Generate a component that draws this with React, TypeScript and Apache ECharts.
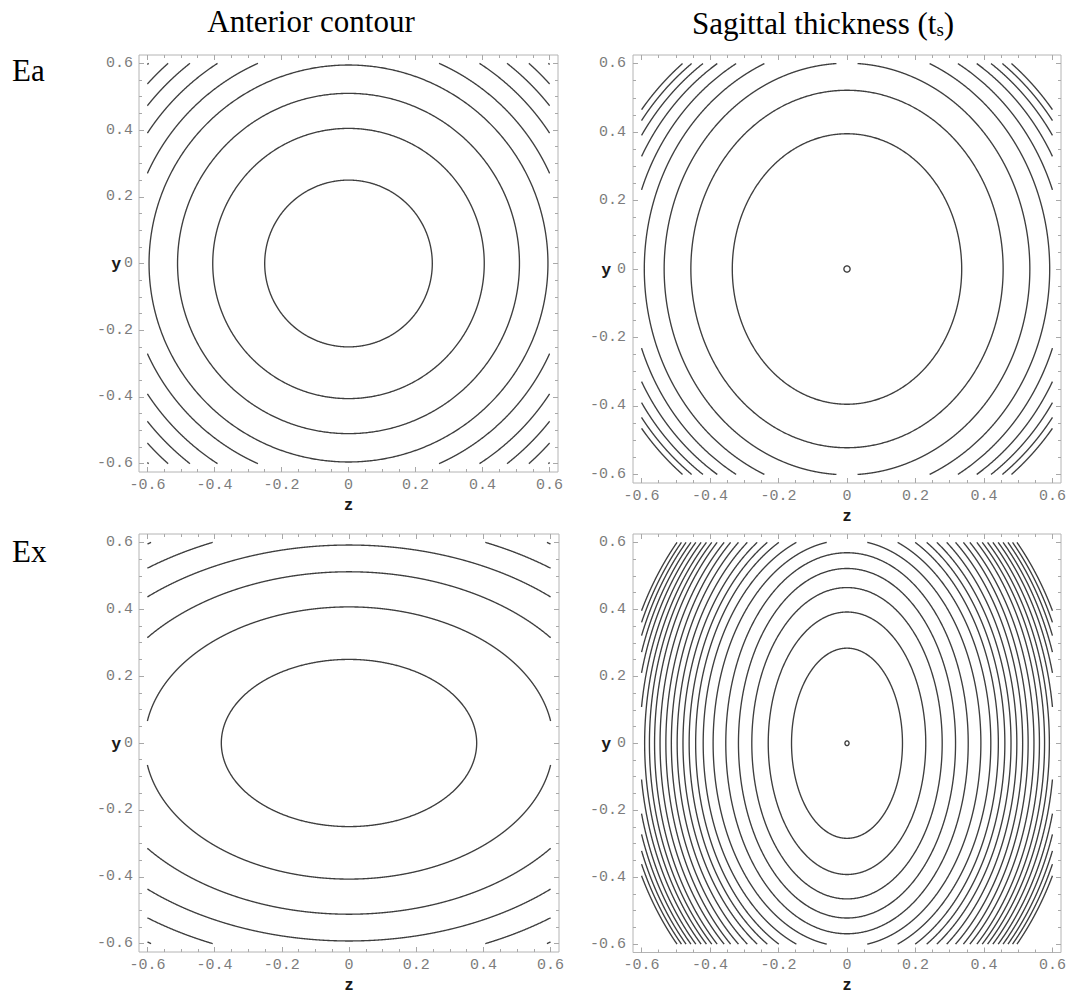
import React, { useEffect, useRef } from "react";
import * as echarts from "echarts";

// ---------- axis ticks ----------
const majorTicks = [-0.6, -0.4, -0.2, 0, 0.2, 0.4, 0.6];
const minorTicks = [
  -0.6, -0.55, -0.5, -0.45, -0.4, -0.35, -0.3, -0.25, -0.2, -0.15, -0.1, -0.05, 0,
  0.05, 0.1, 0.15, 0.2, 0.25, 0.3, 0.35, 0.4, 0.45, 0.5, 0.55, 0.6,
];
const axisMin = -0.625;
const axisMax = 0.625;
const dataLimit = 0.6;

// ---------- texts ----------
const rowLabels = ["Ea", "Ex"];
const anteriorTitle = "Anterior contour";
const sagittalTitle = "Sagittal thickness (t";
const sagittalSub = "s";
const xName = "z";
const yName = "y";

// ---------- contour levels: semi-axis along z and along y ----------
const eaAnteriorZ = [0.25, 0.405, 0.51, 0.595, 0.658, 0.716, 0.764, 0.806, 0.846];
const eaAnteriorY = [0.25, 0.405, 0.51, 0.595, 0.658, 0.716, 0.764, 0.806, 0.846];

const eaSagittalZ = [0.009, 0.335, 0.456, 0.534, 0.592, 0.636, 0.673, 0.703, 0.727, 0.745];
const eaSagittalY = [0.009, 0.395, 0.522, 0.601, 0.657, 0.697, 0.726, 0.749, 0.768, 0.785];

const exAnteriorZ = [0.38, 0.608, 0.761, 0.889, 0.988, 1.076];
const exAnteriorY = [0.25, 0.407, 0.512, 0.592, 0.658, 0.717];

const exSagittalZ = [
  0.006, 0.162, 0.23, 0.278, 0.317, 0.354, 0.391, 0.42, 0.442, 0.461, 0.479, 0.496,
  0.513, 0.529, 0.546, 0.562, 0.577, 0.591, 0.605, 0.619, 0.632, 0.645, 0.657, 0.669,
];
const exSagittalY = [
  0.007, 0.284, 0.392, 0.465, 0.522, 0.569, 0.607, 0.641, 0.672, 0.695, 0.717, 0.741,
  0.763, 0.783, 0.796, 0.813, 0.823, 0.834, 0.845, 0.856, 0.866, 0.876, 0.886, 0.895,
];

const panelData = [
  { z: eaAnteriorZ, y: eaAnteriorY },
  { z: eaSagittalZ, y: eaSagittalY },
  { z: exAnteriorZ, y: exAnteriorY },
  { z: exSagittalZ, y: exSagittalY },
];

// ---------- layout / style ----------
const gridBoxes = [
  { left: 139, top: 55, width: 419, height: 417, nameGapY: 18, marginY: 6 },
  { left: 633, top: 55, width: 428, height: 428, nameGapY: 22, marginY: 7 },
  { left: 139, top: 534, width: 420, height: 418, nameGapY: 18, marginY: 6 },
  { left: 633, top: 534, width: 428, height: 428, nameGapY: 22, marginY: 7 },
];

const frameColor = "#b4b4b4";
const tickColor = "#a8a8a8";
const labelColor = "#7c7c7c";
const contourColor = "#3e3e3e";

const fmt = (v: number) => (Math.abs(v) < 1e-9 ? "0" : v.toFixed(1));

const contourRenderItem = (_params: any, api: any) => {
  const a = api.value(0) as number;
  const b = api.value(1) as number;
  const eps = 1e-9;
  const inside = (t: number) =>
    Math.abs(a * Math.cos(t)) <= dataLimit + eps && Math.abs(b * Math.sin(t)) <= dataLimit + eps;
  const toPx = (t: number) => api.coord([a * Math.cos(t), b * Math.sin(t)]);
  const N = 3600;
  const step = (2 * Math.PI) / N;
  const style = { stroke: contourColor, lineWidth: 1.35, fill: null as any };
  let start = -1;
  for (let i = 0; i < N; i++) {
    if (!inside(i * step)) {
      start = i * step;
      break;
    }
  }
  if (start < 0) {
    const pts: number[][] = [];
    for (let i = 0; i <= N; i += 4) pts.push(toPx(i * step));
    pts.push(toPx(0));
    return { type: "polyline", shape: { points: pts }, style };
  }
  const segs: number[][][] = [];
  let cur: number[][] | null = null;
  let prevT = start;
  let prevIn = false;
  for (let i = 1; i <= N; i++) {
    const t = start + i * step;
    const isIn = inside(t);
    if (isIn && !prevIn) {
      let lo = prevT;
      let hi = t;
      for (let k = 0; k < 40; k++) {
        const m = (lo + hi) / 2;
        if (inside(m)) hi = m;
        else lo = m;
      }
      cur = [toPx(hi), toPx(t)];
    } else if (isIn && prevIn && cur) {
      cur.push(toPx(t));
    } else if (!isIn && prevIn && cur) {
      let lo = prevT;
      let hi = t;
      for (let k = 0; k < 40; k++) {
        const m = (lo + hi) / 2;
        if (inside(m)) lo = m;
        else hi = m;
      }
      cur.push(toPx(lo));
      segs.push(cur);
      cur = null;
    }
    prevT = t;
    prevIn = isIn;
  }
  return {
    type: "group",
    children: segs.map((points) => ({ type: "polyline", shape: { points }, style })),
  };
};

function buildOption() {
  const grids: any[] = [];
  const xAxes: any[] = [];
  const yAxes: any[] = [];
  const series: any[] = [];

  const labelStyle = (margin: number) => ({
    show: true,
    customValues: majorTicks,
    formatter: fmt,
    margin,
    fontFamily: "Liberation Mono",
    fontSize: 15,
    lineHeight: 12,
    color: labelColor,
  });
  const tick = (values: number[], length: number) => ({
    show: true,
    inside: true,
    length,
    customValues: values,
    lineStyle: { color: tickColor, width: 1 },
  });
  const nameStyle = {
    fontFamily: "Liberation Sans",
    fontWeight: "bold",
    fontSize: 17,
    lineHeight: 14,
    color: "#1a1a1a",
  };

  gridBoxes.forEach((g, gi) => {
    grids.push({
      left: g.left,
      top: g.top,
      width: g.width,
      height: g.height,
      show: true,
      borderColor: frameColor,
      borderWidth: 1,
      containLabel: false,
    });
    const base = {
      type: "value",
      gridIndex: gi,
      min: axisMin,
      max: axisMax,
      splitLine: { show: false },
      axisLine: { show: false, onZero: false },
    };
    xAxes.push({
      ...base,
      position: "bottom",
      axisTick: tick(majorTicks, 5),
      axisLabel: labelStyle(7),
      name: xName,
      nameLocation: "middle",
      nameGap: 25,
      nameMoveOverlap: false,
      nameTextStyle: nameStyle,
    });
    xAxes.push({ ...base, position: "bottom", axisTick: tick(minorTicks, 3), axisLabel: { show: false } });
    xAxes.push({ ...base, position: "top", axisTick: tick(majorTicks, 5), axisLabel: { show: false } });
    xAxes.push({ ...base, position: "top", axisTick: tick(minorTicks, 3), axisLabel: { show: false } });

    yAxes.push({
      ...base,
      position: "left",
      axisTick: tick(majorTicks, 5),
      axisLabel: labelStyle(g.marginY),
      name: yName,
      nameLocation: "middle",
      nameRotate: 0,
      nameGap: g.nameGapY,
      nameMoveOverlap: false,
      nameTextStyle: nameStyle,
    });
    yAxes.push({ ...base, position: "left", axisTick: tick(minorTicks, 3), axisLabel: { show: false } });
    yAxes.push({ ...base, position: "right", axisTick: tick(majorTicks, 5), axisLabel: { show: false } });
    yAxes.push({ ...base, position: "right", axisTick: tick(minorTicks, 3), axisLabel: { show: false } });

    const p = panelData[gi];
    series.push({
      type: "custom",
      xAxisIndex: gi * 4,
      yAxisIndex: gi * 4,
      data: p.z.map((v, j) => [v, p.y[j]]),
      renderItem: contourRenderItem,
      clip: false,
      silent: true,
    });
  });

  const serif = '"Liberation Serif", "Times New Roman", serif';
  const graphic = [
    {
      type: "text",
      x: 311,
      y: 21,
      style: {
        text: anteriorTitle,
        font: `31px ${serif}`,
        fill: "#000",
        align: "center",
        verticalAlign: "middle",
      },
    },
    {
      type: "text",
      x: 823,
      y: 21,
      style: {
        text: `{n|${sagittalTitle}}{s|${sagittalSub}}{n|)}`,
        align: "center",
        verticalAlign: "middle",
        rich: {
          n: { fontFamily: serif, fontSize: 31, lineHeight: 36, verticalAlign: "bottom", fill: "#000", color: "#000" },
          s: { fontFamily: serif, fontSize: 19, lineHeight: 20, verticalAlign: "bottom", fill: "#000", color: "#000" },
        },
      },
    },
    {
      type: "text",
      x: 12,
      y: 70,
      style: { text: rowLabels[0], font: `31px ${serif}`, fill: "#000", align: "left", verticalAlign: "middle" },
    },
    {
      type: "text",
      x: 12,
      y: 551,
      style: { text: rowLabels[1], font: `31px ${serif}`, fill: "#000", align: "left", verticalAlign: "middle" },
    },
  ];

  return {
    animation: false,
    backgroundColor: "#ffffff",
    grid: grids,
    xAxis: xAxes,
    yAxis: yAxes,
    series,
    graphic,
  };
}

export default function App() {
  const ref = useRef<HTMLDivElement>(null);
  useEffect(() => {
    if (!ref.current) return;
    const chart = echarts.init(ref.current, undefined, { renderer: "svg" });
    chart.setOption(buildOption() as any);
    return () => chart.dispose();
  }, []);
  return (
    <div
      ref={ref}
      style={{ position: "absolute", left: 0, top: 0, width: 1073, height: 994, background: "#fff" }}
    />
  );
}
